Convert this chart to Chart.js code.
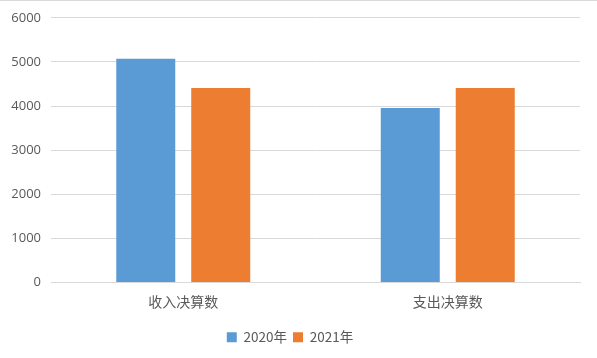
<!DOCTYPE html>
<html><head><meta charset="utf-8">
<script src="https://cdn.jsdelivr.net/npm/chart.js@4/dist/chart.umd.min.js"></script>
<style>
html,body{margin:0;padding:0;background:#fff;}
#wrap{position:relative;width:597px;height:358px;}
#topline{position:absolute;left:0;top:0;width:597px;height:1px;background:#d9d9d9;}
</style></head>
<body>
<div id="wrap"><canvas id="c" width="597" height="358"></canvas><div id="topline"></div></div>
<script>
const categories = ["收入决算数", "支出决算数"];
const seriesNames = ["2020年", "2021年"];
const values2020 = [5070, 3955];
const values2021 = [4410, 4410];
const yTicks = [0, 1000, 2000, 3000, 4000, 5000, 6000];

const FONT = "'Noto Sans CJK SC', 'Open Sans', sans-serif";
new Chart(document.getElementById('c'), {
  type: 'bar',
  data: {
    labels: categories,
    datasets: [
      {label: seriesNames[0], data: values2020, backgroundColor: '#5B9BD5', categoryPercentage: 0.567, barPercentage: 0.787},
      {label: seriesNames[1], data: values2021, backgroundColor: '#ED7D31', categoryPercentage: 0.567, barPercentage: 0.787}
    ]
  },
  options: {
    responsive: false,
    animation: false,
    layout: {padding: {left: 0, right: 17, top: 13, bottom: 4}},
    plugins: {
      tooltip: {enabled: false},
      legend: {
        position: 'bottom',
        labels: {boxWidth: 10, boxHeight: 10, color: '#595959', font: {family: FONT, size: 13.5}, padding: 6}
      }
    },
    scales: {
      x: {
        grid: {display: false},
        border: {color: '#d9d9d9'},
        ticks: {color: '#595959', font: {family: FONT, size: 14}, padding: 3},
        afterFit: s => { s.height = 42; }
      },
      y: {
        min: 0, max: 6000,
        afterBuildTicks: s => { s.ticks = yTicks.map(v => ({value: v})); },
        grid: {color: '#d9d9d9', drawTicks: false},
        border: {display: false},
        ticks: {color: '#595959', font: {family: "'Open Sans', sans-serif", size: 13}, padding: 10, callback: v => String(v)},
        afterFit: s => { s.width = 51; }
      }
    }
  }
});
</script>
</body></html>
